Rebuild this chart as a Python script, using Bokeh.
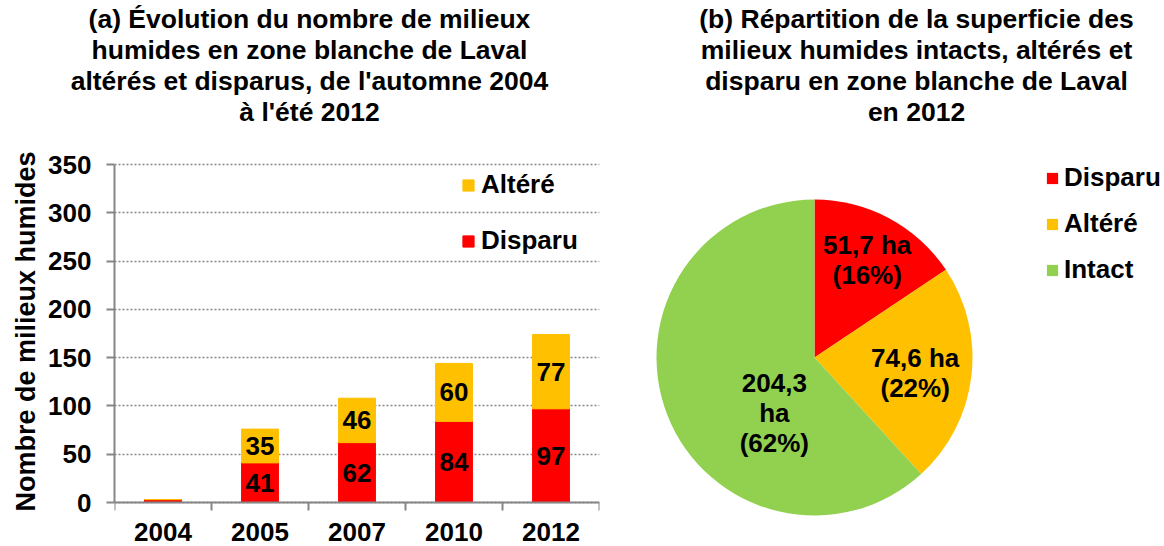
import math
from bokeh.plotting import figure
from bokeh.models import (ColumnDataSource, FixedTicker, Legend, LegendItem,
                          Range1d, Title)
from bokeh.layouts import row
from bokeh.core.properties import value
from bokeh.embed import file_html
from bokeh.resources import INLINE

# ---------------- data ----------------
years = ["2004", "2005", "2007", "2010", "2012"]
disparu = [3, 41, 62, 84, 97]
altere = [0, 35, 46, 60, 77]
y_ticks = [0, 50, 100, 150, 200, 250, 300, 350]

pie_labels = ["Disparu", "Altéré", "Intact"]
pie_values = [51.7, 74.6, 204.3]
pie_pcts = ["16%", "22%", "62%"]

title_a = ["(a) Évolution du nombre de milieux", "humides en zone blanche de Laval",
           "altérés et disparus, de l'automne 2004", "à l'été 2012"]
title_b = ["(b) Répartition de la superficie des", "milieux humides intacts, altérés et",
           "disparu en zone blanche de Laval", "en 2012"]
y_label = "Nombre de milieux humides"

# ---------------- style ----------------
FONT = "Liberation Sans"
RED = "#FF0000"
YEL = "#FFC000"
GRN = "#92D050"
GRAY = "#868686"
FS = "26px"
TFS = 26.5
YLFS = 27

# Arial/Liberation Sans Bold advance widths (per 1000 em), used to centre title lines
W = {" ": 278, "'": 238, "(": 333, ")": 333, ",": 278, "%": 889,
     "A": 722, "D": 722, "E": 667, "É": 667, "I": 278, "L": 611, "N": 722, "R": 722,
     "a": 556, "à": 556, "b": 611, "c": 556, "d": 611, "e": 556, "é": 556, "f": 333,
     "h": 611, "i": 278, "l": 278, "m": 889, "n": 611, "o": 611, "p": 611, "r": 389,
     "s": 556, "t": 333, "u": 611, "v": 556, "x": 556, "z": 500}
def text_w(s, size):
    return sum(W.get(c, 556) for c in s) / 1000 * size

def add_titles(p, lines, centre_from_frame_left):
    # small spacer between the frame and the last title line
    p.add_layout(Title(text=" ", text_font_size="1px", standoff=11), "above")
    for line in reversed(lines):
        off = centre_from_frame_left - text_w(line, TFS) / 2
        p.add_layout(Title(text=line, align="left", offset=off, text_font=FONT,
                           text_font_style="bold", text_font_size=f"{TFS}px",
                           text_color="black", standoff=-1), "above")

FRAME_TOP, ZERO_Y, TOP_Y, FRAME_BOTTOM = 140, 502, 164, 546
px_per_unit = (ZERO_Y - TOP_Y) / 350

# ---------------- (a) stacked bars ----------------
p1 = figure(width=620, height=546,
            x_range=Range1d(-0.5, 4.5),
            y_range=Range1d(-(FRAME_BOTTOM - ZERO_Y) / px_per_unit,
                            350 + (TOP_Y - FRAME_TOP) / px_per_unit),
            output_backend="svg", toolbar_location=None,
            min_border_left=114, min_border_right=21, min_border_top=FRAME_TOP,
            min_border_bottom=0)
p1.outline_line_color = None

xs = list(range(len(years)))
src = ColumnDataSource(dict(x=xs, disparu=disparu, altere=altere))
r_dis, r_alt = p1.vbar_stack(["disparu", "altere"], x="x", width=0.38,
                             color=[RED, YEL], source=src)

lab_x, lab_y, lab_t = [], [], []
for i in xs:
    if disparu[i] >= 10:
        lab_x.append(i); lab_y.append(disparu[i] / 2); lab_t.append(str(disparu[i]))
    if altere[i] >= 10:
        lab_x.append(i); lab_y.append(disparu[i] + altere[i] / 2); lab_t.append(str(altere[i]))
p1.text(x=lab_x, y=lab_y, text=lab_t, text_align="center", text_baseline="middle",
        text_font=value(FONT), text_font_style="bold", text_font_size=FS, text_color="black")

xa = p1.xaxis[0]
xa.fixed_location = 0
xa.ticker = FixedTicker(ticks=xs, minor_ticks=[i - 0.5 for i in range(len(years) + 1)])
xa.major_label_overrides = {i: y for i, y in zip(xs, years)}
xa.major_tick_out = 0
xa.major_tick_in = 0
xa.minor_tick_out = 8
xa.minor_tick_in = 0
xa.minor_tick_line_color = GRAY
xa.axis_line_color = GRAY
xa.axis_line_width = 2
xa.minor_tick_line_width = 2
xa.major_label_standoff = 12
xa.major_label_text_font = FONT
xa.major_label_text_font_style = "bold"
xa.major_label_text_font_size = FS
xa.major_label_text_color = "black"

ya = p1.yaxis[0]
ya.bounds = (0, 350)
ya.ticker = FixedTicker(ticks=y_ticks)
ya.major_tick_out = 8
ya.major_tick_in = 0
ya.major_tick_line_color = GRAY
ya.major_tick_line_width = 2
ya.minor_tick_line_color = None
ya.axis_line_color = GRAY
ya.axis_line_width = 2
ya.major_label_standoff = 15
ya.major_label_text_font = FONT
ya.major_label_text_font_style = "bold"
ya.major_label_text_font_size = FS
ya.major_label_text_color = "black"

# y axis title, centred on the 0..350 part of the axis
ylab_centre = 331
p1.add_layout(Title(text=y_label, align="left",
                    offset=FRAME_BOTTOM - ylab_centre - text_w(y_label, YLFS) / 2,
                    text_font=FONT, text_font_style="bold", text_font_size=f"{YLFS}px",
                    text_color="black", standoff=9), "left")

p1.xgrid.visible = False
p1.ygrid.grid_line_color = GRAY
p1.ygrid.grid_line_dash = "2 2"
p1.ygrid.grid_line_width = 1.5

leg1 = Legend(items=[LegendItem(label="Altéré", renderers=[r_alt]),
                     LegendItem(label="Disparu", renderers=[r_dis])],
              location=(347, 290), glyph_width=14, glyph_height=14, label_height=30,
              spacing=25, padding=0, margin=0, label_standoff=6,
              border_line_color=None, background_fill_alpha=0,
              label_text_font=FONT, label_text_font_style="bold",
              label_text_font_size=FS, label_text_color="black")
p1.add_layout(leg1)
add_titles(p1, title_a, 309 - 114)

# ---------------- (b) pie ----------------
p2 = figure(width=544, height=546, x_range=Range1d(-194, 350), y_range=Range1d(-189, 217),
            output_backend="svg", toolbar_location=None,
            x_axis_location=None, y_axis_location=None,
            min_border_left=0, min_border_right=0, min_border_bottom=0,
            min_border_top=FRAME_TOP)
p2.outline_line_color = None
p2.grid.visible = False

total = sum(pie_values)
starts, ends, mids = [], [], []
cum = 0.0
for v in pie_values:
    a0 = math.pi / 2 - 2 * math.pi * cum / total
    cum += v
    a1 = math.pi / 2 - 2 * math.pi * cum / total
    starts.append(a1); ends.append(a0); mids.append((a0 + a1) / 2)

psrc = ColumnDataSource(dict(start=starts, end=ends, color=[RED, YEL, GRN], label=pie_labels))
r_pie = p2.wedge(x=0, y=0, radius=158, start_angle="start", end_angle="end",
                 direction="anticlock", fill_color="color", line_color=None, source=psrc)

def fmt(v):
    return f"{v:.1f}".replace(".", ",")

wrap = [False, False, True]
pie_text = [f"{fmt(v)}{chr(10) if w else ' '}ha\n({p})" for v, w, p in zip(pie_values, wrap, pie_pcts)]
lab_r = 0.68 * 158
px = [lab_r * math.cos(m) for m in mids]
py = [lab_r * math.sin(m) for m in mids]
nudge_x = [2, -6, 60]
nudge_y = [-3, 3, 17]
p2.text(x=px, y=py, text=pie_text, x_offset=nudge_x, y_offset=nudge_y,
        text_align="center", text_baseline="middle", text_line_height=1.0,
        text_font=value(FONT), text_font_style="bold", text_font_size=FS, text_color="black")

leg2 = Legend(items=[LegendItem(label=lab, renderers=[r_pie], index=i)
                     for i, lab in enumerate(pie_labels)],
              location=(425, 261), glyph_width=14, glyph_height=14, label_height=30,
              spacing=15, padding=0, margin=0, label_standoff=5,
              border_line_color=None, background_fill_alpha=0,
              label_text_font=FONT, label_text_font_style="bold",
              label_text_font_size=FS, label_text_color="black")
p2.add_layout(leg2)
add_titles(p2, title_b, 916 - 620)

layout = row(p1, p2)
open("out.html", "w").write(file_html(layout, INLINE))
